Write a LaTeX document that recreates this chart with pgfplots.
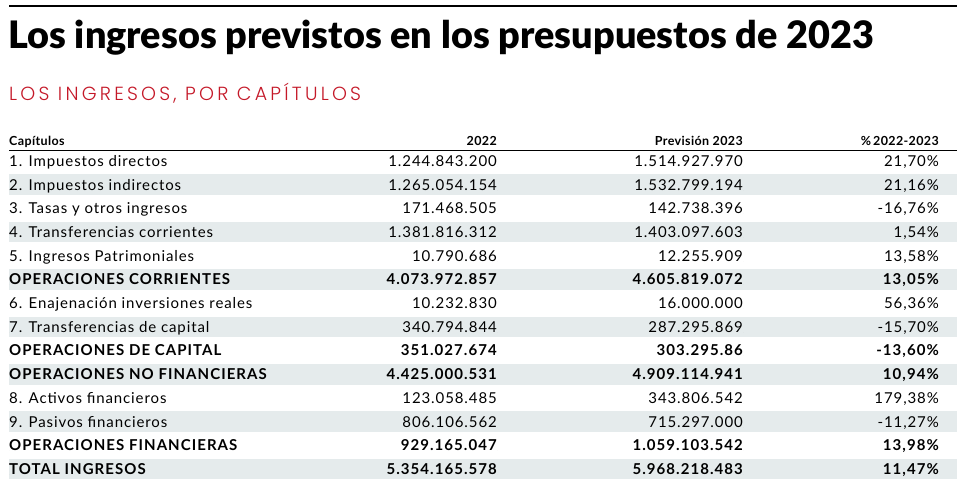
\documentclass[border=0pt]{standalone}
\usepackage{fontspec}
\usepackage{pgfplots}
\usepackage{pgfplotstable}
\pgfplotsset{compat=1.18}
\setmainfont{Lato}
\newfontfamily\titlefont{Lato}[UprightFont=* Black]
\newfontfamily\subfont{Poppins}[UprightFont=* Light, LetterSpace=17]
\newfontfamily\bodyfont{Lato}[LetterSpace=6]
\newfontfamily\rowboldfont{Lato}[UprightFont=* Bold, LetterSpace=7]
\newfontfamily\headfont{Lato}[UprightFont=* Bold, LetterSpace=3]
\definecolor{band}{RGB}{229,235,236}
\definecolor{subred}{RGB}{196,24,40}

\pgfplotstableread[col sep=semicolon]{
i;label;a;b;p
1;1. Impuestos directos;1.244.843.200;1.514.927.970;21,70
2;2. Impuestos indirectos;1.265.054.154;1.532.799.194;21,16
3;3. Tasas y otros ingresos;171.468.505;142.738.396;-16,76
4;4. Transferencias corrientes;1.381.816.312;1.403.097.603;1,54
5;5. Ingresos Patrimoniales;10.790.686;12.255.909;13,58
7;6. Enajenación inversiones reales;10.232.830;16.000.000;56,36
8;7. Transferencias de capital;340.794.844;287.295.869;-15,70
11;8. Activos financieros;123.058.485;343.806.542;179,38
12;9. Pasivos financieros;806.106.562;715.297.000;-11,27
}\normalrows

\pgfplotstableread[col sep=semicolon]{
i;label;a;b;p
6;OPERACIONES CORRIENTES;4.073.972.857;4.605.819.072;13,05
9;OPERACIONES DE CAPITAL;351.027.674;303.295.86;-13,60
10;OPERACIONES NO FINANCIERAS;4.425.000.531;4.909.114.941;10,94
13;OPERACIONES FINANCIERAS;929.165.047;1.059.103.542;13,98
14;TOTAL INGRESOS;5.354.165.578;5.968.218.483;11,47
}\boldrows

\pgfplotsset{
  txt/.style={only marks, mark=*, mark size=0pt,
    mark options={draw=none, fill=none},
    point meta=explicit symbolic, nodes near coords,
    nodes near coords style={inner sep=0pt, anchor=#1, text=black}},
}

\begin{document}
\begin{tikzpicture}
\begin{axis}[
  scale only axis, width=967pt, height=491pt,
  xmin=0, xmax=967, ymin=0, ymax=491, y dir=reverse,
  hide axis, clip=false,
]
% background frame
\path (axis cs:0,0) rectangle (axis cs:967,491);
% alternating bands
\pgfplotsinvokeforeach{2,4,6,8,10,12,14}{
  \fill[band] (axis cs:9,{161+23.7*(#1-1)-10.3}) rectangle (axis cs:957,{161+23.7*(#1-1)+10.3});
}
% rules
\draw[line width=1.4pt] (axis cs:9,6) -- (axis cs:957,6);
\draw[line width=1pt] (axis cs:9,150) -- (axis cs:957,150);
% title and subtitle
\node[anchor=base west, inner sep=0pt, font=\titlefont\fontsize{37.8}{40}\selectfont] at (axis cs:8,48) {Los ingresos previstos en los presupuestos de 2023};
\node[anchor=base west, inner sep=0pt, text=subred, font=\subfont\fontsize{19}{21}\selectfont] at (axis cs:9,100) {LOS INGRESOS, POR CAPÍTULOS};
% header
\node[anchor=base west, inner sep=0pt, font=\headfont\fontsize{12.5}{14}\selectfont] at (axis cs:9,145) {Capítulos};
\node[anchor=base east, inner sep=0pt, font=\headfont\fontsize{12.5}{14}\selectfont] at (axis cs:497,145) {2022};
\node[anchor=base east, inner sep=0pt, font=\headfont\fontsize{12.5}{14}\selectfont] at (axis cs:743,145) {Previsión 2023};
\node[anchor=base east, inner sep=0pt, font=\headfont\fontsize{12.5}{14}\selectfont] at (axis cs:939,145) {\%\,2022-2023};

% normal rows
\addplot[txt=base west, nodes near coords style={font=\bodyfont\fontsize{15}{17}\selectfont}]
  table[x expr=9, y expr={166.3+23.7*(\thisrow{i}-1)}, meta=label] {\normalrows};
\addplot[txt=base east, nodes near coords style={font=\bodyfont\fontsize{15}{17}\selectfont}]
  table[x expr=497, y expr={166.3+23.7*(\thisrow{i}-1)}, meta=a] {\normalrows};
\addplot[txt=base east, nodes near coords style={font=\bodyfont\fontsize{15}{17}\selectfont}]
  table[x expr=743, y expr={166.3+23.7*(\thisrow{i}-1)}, meta=b] {\normalrows};
\addplot[txt=base east, nodes near coords={\pgfplotspointmeta\%}, nodes near coords style={font=\bodyfont\fontsize{15}{17}\selectfont}]
  table[x expr=939, y expr={166.3+23.7*(\thisrow{i}-1)}, meta=p] {\normalrows};

% bold rows
\addplot[txt=base west, nodes near coords style={font=\rowboldfont\fontsize{15}{17}\selectfont}]
  table[x expr=9, y expr={166.3+23.7*(\thisrow{i}-1)}, meta=label] {\boldrows};
\addplot[txt=base east, nodes near coords style={font=\rowboldfont\fontsize{15}{17}\selectfont}]
  table[x expr=497, y expr={166.3+23.7*(\thisrow{i}-1)}, meta=a] {\boldrows};
\addplot[txt=base east, nodes near coords style={font=\rowboldfont\fontsize{15}{17}\selectfont}]
  table[x expr=743, y expr={166.3+23.7*(\thisrow{i}-1)}, meta=b] {\boldrows};
\addplot[txt=base east, nodes near coords={\pgfplotspointmeta\%}, nodes near coords style={font=\rowboldfont\fontsize{15}{17}\selectfont}]
  table[x expr=939, y expr={166.3+23.7*(\thisrow{i}-1)}, meta=p] {\boldrows};
\end{axis}
\end{tikzpicture}
\end{document}
